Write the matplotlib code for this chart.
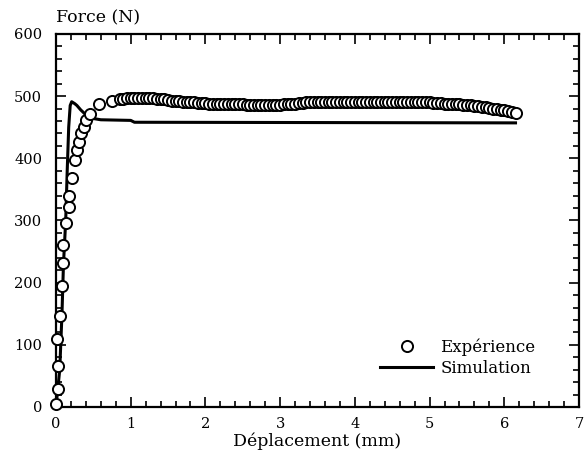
import matplotlib.pyplot as plt
from matplotlib.ticker import MultipleLocator

plt.rcParams['font.family'] = ['DejaVu Serif']

# experimental points (mm, N)
exp_x = [0.0, 0.03, 0.03, 0.01, 0.05, 0.085, 0.10, 0.10, 0.14, 0.18, 0.18,
         0.21, 0.25, 0.28, 0.31, 0.33, 0.37, 0.40, 0.45, 0.57, 0.75,
         0.85, 0.90, 0.95, 1.00, 1.05, 1.10, 1.15, 1.20, 1.25, 1.30,
         1.35, 1.40, 1.45, 1.50, 1.55, 1.60, 1.65, 1.70, 1.75, 1.80,
         1.85, 1.90, 1.95, 2.00, 2.05, 2.10, 2.15, 2.20, 2.25, 2.30,
         2.35, 2.40, 2.45, 2.50, 2.55, 2.60, 2.65, 2.70, 2.75, 2.80,
         2.85, 2.90, 2.95, 3.00, 3.05, 3.10, 3.15, 3.20, 3.25, 3.30,
         3.35, 3.40, 3.45, 3.50, 3.55, 3.60, 3.65, 3.70, 3.75, 3.80,
         3.85, 3.90, 3.95, 4.00, 4.05, 4.10, 4.15, 4.20, 4.25, 4.30,
         4.35, 4.40, 4.45, 4.50, 4.55, 4.60, 4.65, 4.70, 4.75, 4.80,
         4.85, 4.90, 4.95, 5.00, 5.05, 5.10, 5.15, 5.20, 5.25, 5.30,
         5.35, 5.40, 5.45, 5.50, 5.55, 5.60, 5.65, 5.70, 5.75, 5.80,
         5.85, 5.90, 5.95, 6.00, 6.05, 6.10, 6.15]
exp_y = [5, 29, 66, 109, 147, 195, 231, 260, 296, 322, 339,
         369, 397, 413, 427, 440, 451, 461, 472, 487, 492,
         496, 496, 497, 497, 497, 497, 497, 497, 497, 497,
         496, 496, 495, 494, 493, 492, 492, 491, 491, 490,
         490, 489, 489, 489, 488, 488, 488, 488, 488, 488,
         487, 487, 487, 487, 486, 486, 485, 485, 485, 485,
         485, 485, 486, 486, 487, 487, 488, 488, 489, 489,
         490, 490, 490, 490, 491, 491, 491, 491, 491, 491,
         491, 491, 491, 491, 491, 491, 491, 491, 491, 491,
         491, 491, 491, 491, 491, 491, 491, 491, 491, 491,
         491, 490, 490, 490, 489, 489, 489, 488, 488, 488,
         487, 487, 486, 486, 485, 484, 484, 483, 482, 481,
         480, 479, 478, 477, 476, 475, 473]

# simulation curve
sim_x = [0.0, 0.05, 0.08, 0.10, 0.13, 0.15, 0.17, 0.19, 0.21, 0.25, 0.28,
         0.33, 0.40, 0.50, 0.60, 1.00, 1.05, 6.15]
sim_y = [0, 60, 150, 230, 300, 380, 450, 485, 491, 488, 485,
         478, 470, 464, 462, 461, 458, 457]

fig = plt.figure(figsize=(5.87, 4.63), dpi=100)
ax = fig.add_axes([0.0954, 0.121, 0.891, 0.8056])

ax.plot(exp_x, exp_y, 'o', ms=8, mfc='white', mec='black', mew=1.4,
        label='Expérience', zorder=3, clip_on=False)
ax.plot(sim_x, sim_y, '-', color='black', lw=2.2, label='Simulation', zorder=2)

ax.set_xlim(0, 7)
ax.set_ylim(0, 600)
ax.xaxis.set_major_locator(MultipleLocator(1))
ax.xaxis.set_minor_locator(MultipleLocator(0.2))
ax.yaxis.set_major_locator(MultipleLocator(100))
ax.yaxis.set_minor_locator(MultipleLocator(20))
ax.tick_params(which='both', direction='in', top=True, right=True,
               labelsize=10.5, width=1.2)
ax.tick_params(which='major', length=7)
ax.tick_params(which='minor', length=4)
ax.tick_params(axis='x', pad=7)
ax.tick_params(axis='y', pad=10)
for sp in ax.spines.values():
    sp.set_linewidth(1.6)

ax.set_xlabel('Déplacement (mm)', fontsize=12.5, labelpad=1)
ax.text(0.0, 1.02, 'Force (N)', transform=ax.transAxes, ha='left',
        va='bottom', fontsize=12.5)

ax.legend(loc='lower right', bbox_to_anchor=(0.945, 0.04), frameon=False,
          fontsize=12, handlelength=3.2, handletextpad=0.4, labelspacing=0.25)

fig.savefig('out.png', dpi=100)
